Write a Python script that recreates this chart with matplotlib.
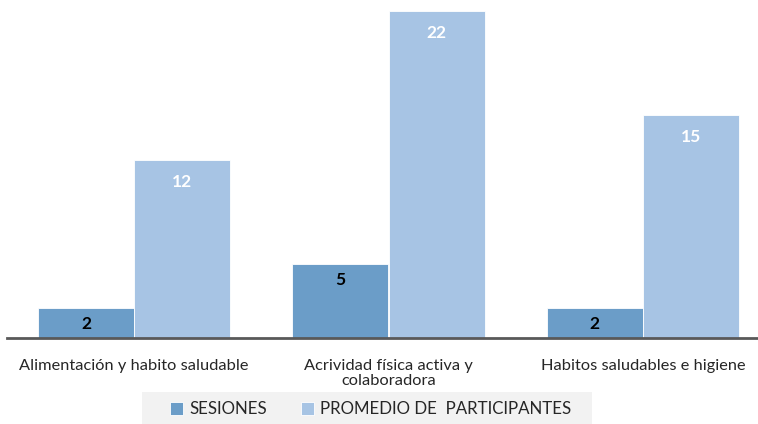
import matplotlib.pyplot as plt
import matplotlib.patches as mpatches
import numpy as np

plt.rcParams['font.family'] = ['Lato', 'DejaVu Sans']

# Datos
categorias = ["Alimentación y habito saludable", "Acrividad física activa y\ncolaboradora",
              "Habitos saludables e higiene"]
sesiones = [2, 5, 2]
promedio = [12, 22, 15]
series = ["SESIONES", "PROMEDIO DE  PARTICIPANTES"]

c_ses = "#6b9dc8"
c_pro = "#a7c4e4"

fig = plt.figure(figsize=(7.58, 4.24), dpi=100)
# el eje se sale un poco por la derecha, como en el original
ax = fig.add_axes([7 / 758, 86 / 424, 763 / 758, 327 / 424])

x = np.arange(len(categorias))
w = 0.378
b1 = ax.bar(x - w / 2, sesiones, w, color=c_ses, edgecolor="white", linewidth=0.6, label=series[0])
b2 = ax.bar(x + w / 2, promedio, w, color=c_pro, edgecolor="white", linewidth=0.6, label=series[1])

for r, v in zip(b1, sesiones):
    ax.annotate(str(v), (r.get_x() + r.get_width() / 2, v), xytext=(0, -16), textcoords="offset pixels",
                ha="center", va="center", fontsize=12.5, fontweight="bold", color="black")
for r, v in zip(b2, promedio):
    ax.annotate(str(v), (r.get_x() + r.get_width() / 2, v), xytext=(0, -22), textcoords="offset pixels",
                ha="center", va="center", fontsize=12.5, fontweight="bold", color="white")

ax.set_xlim(-0.5, 2.5)
ax.set_ylim(0, 22)
ax.set_yticks([])
ax.set_xticks(x)
ax.set_xticklabels(categorias, fontsize=11.8, color="#262626", linespacing=1.15)
ax.tick_params(axis="x", length=0, pad=15)
for s in ["top", "right", "left"]:
    ax.spines[s].set_visible(False)
ax.spines["bottom"].set_color("#595959")
ax.spines["bottom"].set_linewidth(2)

# fondo gris de la leyenda
fig.patches.append(mpatches.Rectangle((142 / 758, 0), 450 / 758, 32 / 424, transform=fig.transFigure,
                                      facecolor="#f2f2f2", edgecolor="none", zorder=0))

leg = fig.legend(loc="center", bbox_to_anchor=(0.489, 15 / 424), ncol=2, frameon=False,
                 fontsize=12.2, handlelength=0.8, handleheight=0.8, handletextpad=0.35,
                 columnspacing=2.0, borderpad=0.0)
for t in leg.get_texts():
    t.set_color("#262626")

fig.savefig("out.png", dpi=100)
